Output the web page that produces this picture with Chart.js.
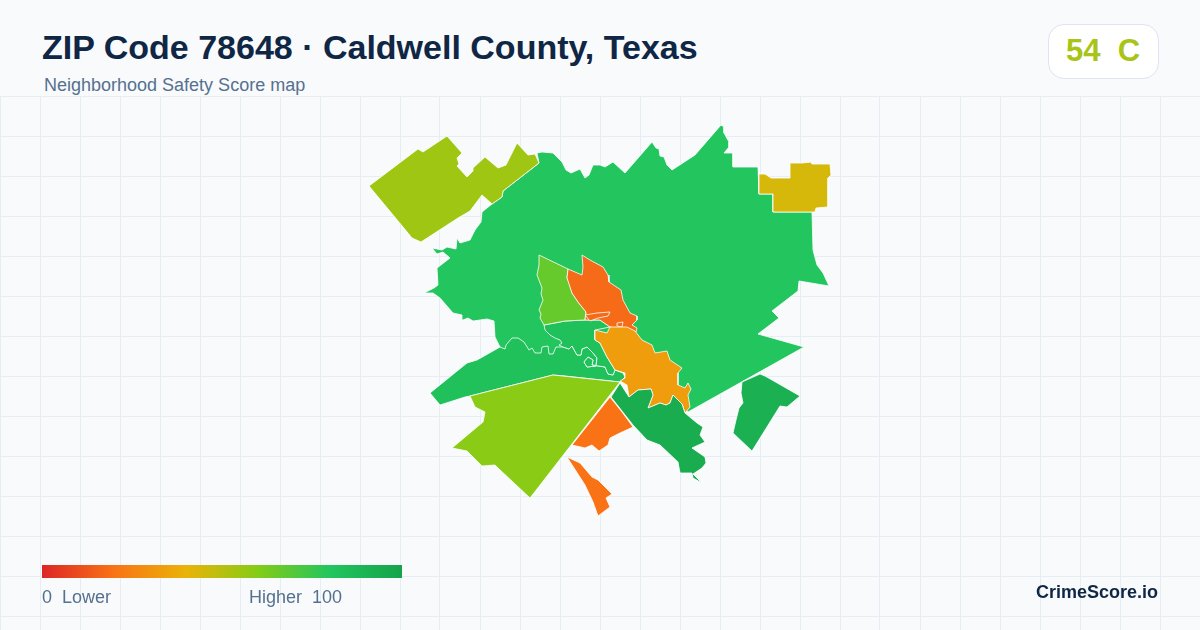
<!DOCTYPE html>
<html>
<head>
<meta charset="utf-8">
<title>ZIP Code 78648</title>
<script src="https://cdn.jsdelivr.net/npm/chart.js@4"></script>
<style>
  html, body { margin: 0; padding: 0; background: #f8fafc; }
  body { width: 1200px; height: 630px; overflow: hidden; position: relative; font-family: "Liberation Sans", Arial, sans-serif; }
  #map { position: absolute; left: 0; top: 96px; }
  .txt { position: absolute; white-space: pre; line-height: 1; }
  #title { left: 42px; top: 30px; font-size: 34px; font-weight: bold; color: #0f2744; }
  #sub { left: 44px; top: 76px; font-size: 18px; color: #56708f; }
  #badge { position: absolute; left: 1048px; top: 24px; width: 109px; height: 53px; background: #fff; border: 1px solid #dfe5ee; border-radius: 16px; }
  #grade { left: 1066px; top: 35px; font-size: 31px; font-weight: bold; color: #a8c416; }
  #ramp { position: absolute; left: 42px; top: 565px; width: 360px; height: 13px; }
  #low { left: 42px; top: 588px; font-size: 18px; color: #56708f; }
  #high { left: 249px; top: 588px; font-size: 18px; color: #56708f; }
  #brand { left: 1036px; top: 583px; font-size: 18px; font-weight: bold; color: #0f2744; }
</style>
</head>
<body>
<canvas id="map" width="1200" height="534"></canvas>
<div class="txt" id="title"></div>
<div class="txt" id="sub"></div>
<div id="badge"></div>
<div class="txt" id="grade"></div>
<div id="ramp"></div>
<div class="txt" id="low"></div>
<div class="txt" id="high"></div>
<div class="txt" id="brand"></div>
<script>
// headline + legend text
const titleText = "ZIP Code 78648 · Caldwell County, Texas";
const subText = "Neighborhood Safety Score map";
const overallScore = 54;
const overallGrade = "C";
const legendLow = "0  Lower";
const legendHigh = "Higher  100";
const brandText = "CrimeScore.io";

// score ramp of the legend
const rampStops = [0, 20, 40, 60, 80, 100];
const rampColors = [[220, 38, 38], [249, 115, 22], [234, 179, 8], [132, 204, 22], [34, 197, 94], [22, 163, 74]];

// grid ticks, map units
const gridX = [0, 40, 80, 120, 160, 200, 240, 280, 320, 360, 400, 440, 480, 520, 560, 600, 640, 680, 720, 760, 800, 840, 880, 920, 960, 1000, 1040, 1080, 1120, 1160];
const gridY = [96, 136, 176, 216, 256, 296, 336, 376, 416, 456, 496, 536, 576, 616];

// outlines, [x, y] in map units
const northZone = [[539,163],[537,153],[542,152],[553,153],[562,162],[566,170],[571,173],[580,169],[585,178],[589,175],[593,165],[600,165],[605,167],[613,162],[625,173],[652,142],[656,148],[659,149],[660,156],[664,157],[667,165],[672,170],[695,155],[721,125],[724,127],[724,133],[729,142],[729,147],[724,153],[733,153],[733,167],[758,167],[759,194],[773,194],[773,212],[812,212],[813,250],[817,265],[823,273],[829,286],[799,281],[798,291],[772,311],[779,318],[758,334],[804,347],[688,412],[660,380],[625,360],[560,365],[510,360],[500,347],[495,337],[494,321],[487,319],[473,321],[468,318],[463,320],[462,315],[453,313],[440,298],[433,293],[424,293],[434,288],[438,285],[437,268],[450,258],[443,252],[437,254],[432,248],[442,250],[447,247],[456,249],[457,238],[460,243],[470,240],[475,230],[481,222],[482,212],[492,204],[502,197],[503,191]];
const northwestZone = [[369,186],[418,149],[423,152],[447,136],[462,153],[457,158],[459,164],[457,166],[467,177],[473,171],[473,168],[485,157],[498,168],[506,165],[517,143],[528,155],[535,154],[539,163],[503,191],[502,197],[492,204],[482,195],[470,211],[458,218],[421,242],[412,238],[403,227]];
const northeastZone = [[759,174],[765,174],[771,178],[790,178],[790,163],[802,163],[812,162],[812,164],[830,164],[831,175],[828,178],[828,207],[816,208],[815,212],[773,212],[773,194],[759,194]];
const southBandZone = [[500,347],[505,349],[506,345],[512,338],[518,338],[524,342],[529,350],[532,348],[535,353],[541,353],[542,347],[548,346],[549,354],[553,354],[556,347],[563,347],[569,349],[572,346],[577,355],[581,355],[582,349],[587,347],[593,353],[597,358],[596,366],[587,367],[584,362],[588,357],[593,360],[592,365],[605,367],[608,374],[613,375],[615,370],[623,373],[625,377],[620,382],[565,376],[553,375],[470,396],[465,397],[440,405],[430,393],[467,363],[477,360]];
const midZone = [[544,325],[565,321],[585,320],[600,320],[610,327],[595,330],[595,340],[600,343],[607,357],[615,370],[613,375],[608,374],[605,367],[592,365],[593,360],[588,357],[584,362],[587,367],[596,366],[597,358],[593,353],[587,347],[582,349],[581,355],[577,355],[572,346],[569,349],[563,347],[559,345],[562,343],[560,340],[555,338],[550,335],[545,330]];
const millZone = [[539,255],[568,269],[567,278],[570,285],[572,293],[578,302],[586,312],[585,320],[565,321],[544,325],[540,318],[541,314],[539,310],[543,300],[541,294],[542,288],[537,275],[539,265]];
const townZone = [[568,269],[582,275],[583,267],[582,255],[590,260],[603,267],[608,275],[609,282],[621,290],[623,300],[630,313],[637,316],[637,320],[632,325],[637,328],[636,332],[623,329],[610,327],[600,320],[585,320],[586,312],[578,302],[572,293],[567,278]];
const townSliverA = [[585,315],[597,313],[610,312],[608,316],[598,318],[590,321]];
const townSliverB = [[617,323],[623,322],[622,327],[617,326]];
const centerZone = [[595,330],[607,333],[610,327],[627,327],[635,331],[642,340],[652,345],[655,353],[667,351],[670,360],[682,368],[678,373],[678,385],[685,388],[688,383],[691,389],[688,395],[690,407],[685,413],[682,404],[673,395],[670,403],[666,405],[660,403],[648,408],[653,395],[651,389],[638,390],[629,397],[627,385],[620,381],[625,378],[625,373],[615,370],[607,357],[600,343],[595,340]];
const riverZone = [[620,383],[629,397],[638,390],[651,389],[653,395],[648,408],[660,403],[666,405],[670,403],[673,395],[682,404],[685,413],[697,423],[703,427],[700,435],[705,442],[692,448],[705,457],[706,463],[702,468],[693,474],[702,483],[693,478],[692,473],[680,473],[678,462],[660,445],[647,440],[633,425],[611,397]];
const eastZone = [[742,382],[760,374],[765,376],[800,396],[787,407],[780,406],[752,451],[733,433],[736,420],[739,408],[743,403],[741,393]];
const southwestZone = [[470,396],[553,375],[620,382],[530,498],[498,468],[495,465],[482,466],[467,451],[452,448],[483,422],[485,412],[475,407]];
const southZone = [[610,397],[622,412],[633,427],[620,433],[610,438],[608,445],[599,451],[592,445],[585,448],[572,445]];
const farSouthZone = [[567,457],[580,463],[592,477],[598,480],[612,494],[606,498],[610,507],[598,516],[593,502],[585,485]];

// drawn back to front
const zoneOutlines = [northZone, northwestZone, northeastZone, southBandZone, midZone, millZone, townZone, townSliverA, townSliverB, centerZone, riverZone, eastZone, southwestZone, southZone, farSouthZone];
const zoneScores = [80, 55, 44, 83, 83, 66, 18, 18, 18, 33, 94, 92, 59, 20, 20];

function scoreColor(score) {
  let i = 0;
  while (i < rampStops.length - 2 && score > rampStops[i + 1]) i++;
  const t = (score - rampStops[i]) / (rampStops[i + 1] - rampStops[i]);
  const c = rampColors[i].map((v, k) => Math.round(v + (rampColors[i + 1][k] - v) * t));
  return `rgb(${c[0]}, ${c[1]}, ${c[2]})`;
}

document.getElementById("title").textContent = titleText;
document.getElementById("sub").textContent = subText;
document.getElementById("grade").textContent = overallScore + "  " + overallGrade;
document.getElementById("low").textContent = legendLow;
document.getElementById("high").textContent = legendHigh;
document.getElementById("brand").textContent = brandText;
document.getElementById("ramp").style.background =
  "linear-gradient(to right, " + rampStops.map((s) => scoreColor(s) + " " + s + "%").join(", ") + ")";

const datasets = zoneOutlines.map((outline, i) => {
  const points = outline.concat([outline[0]]).map((p) => ({ x: p[0], y: p[1] }));
  return {
    data: points,
    showLine: true,
    fill: "shape",
    tension: 0,
    pointRadius: 0,
    pointHoverRadius: 0,
    borderWidth: 0.8,
    borderColor: "#ffffff",
    backgroundColor: scoreColor(zoneScores[i]),
    order: zoneOutlines.length - i,
  };
});

new Chart(document.getElementById("map").getContext("2d"), {
  type: "scatter",
  data: { datasets: datasets },
  options: {
    responsive: false,
    animation: false,
    layout: { padding: 0 },
    plugins: { legend: { display: false }, tooltip: { enabled: false } },
    scales: {
      x: {
        type: "linear",
        min: 0,
        max: 1200,
        afterBuildTicks: (axis) => { axis.ticks = gridX.map((v) => ({ value: v })); },
        ticks: { display: false },
        border: { display: false },
        grid: { color: "#e6edf3", lineWidth: 1, drawTicks: false },
      },
      y: {
        type: "linear",
        reverse: true,
        min: 96,
        max: 630,
        afterBuildTicks: (axis) => { axis.ticks = gridY.map((v) => ({ value: v })); },
        ticks: { display: false },
        border: { display: false },
        grid: { color: "#e6edf3", lineWidth: 1, drawTicks: false },
      },
    },
  },
});
</script>
</body>
</html>
